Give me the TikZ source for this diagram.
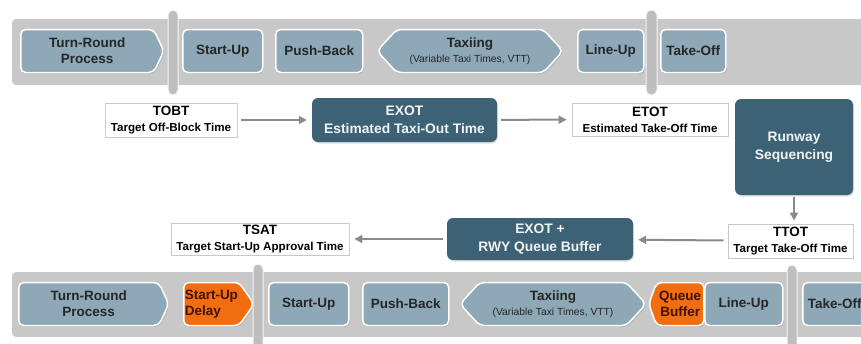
\documentclass[tikz,border=0pt]{standalone}
\usepackage{fontspec}
\setmainfont{Liberation Sans}
\usetikzlibrary{positioning}
\usetikzlibrary{shapes.symbols, arrows.meta, shadows}

\definecolor{bandgray}{RGB}{200,200,200}
\definecolor{bargray}{RGB}{190,190,190}
\definecolor{phaseblue}{RGB}{142,168,183}
\definecolor{calcteal}{RGB}{62,98,117}
\definecolor{delayorange}{RGB}{242,108,16}
\definecolor{delaytext}{RGB}{60,20,0}
\definecolor{flowgray}{RGB}{138,138,138}
\definecolor{framegray}{RGB}{200,200,200}

\newcommand{\subline}[1]{{\fontsize{11.6}{13}\selectfont #1}}

\tikzset{
  band/.style={fill=bandgray, rounded corners=4pt},
  divider/.style={fill=bargray, draw=white!85!bargray, line width=1pt, rounded corners=5pt},
  phase/.style={rectangle, rounded corners=5pt, draw=white, line width=1.5pt,
    fill=phaseblue, text=black!85, align=center, inner sep=1pt, anchor=west,
    minimum height=43pt, font=\bfseries\fontsize{13.5}{16}\selectfont,
    drop shadow={shadow xshift=1pt, shadow yshift=-1.5pt, opacity=.3}},
  phasearrow/.style={phase, signal, signal to=east, signal pointer angle=130},
  delay/.style={fill=delayorange, text=delaytext},
  timebox/.style={rectangle, draw=framegray, line width=.8pt, fill=white,
    align=center, inner sep=1pt, font=\bfseries\fontsize{13.5}{16}\selectfont},
  calcbox/.style={rectangle, rounded corners=6pt, fill=calcteal, text=white!92!calcteal,
    align=center, inner sep=2pt, font=\bfseries\fontsize{13.8}{18}\selectfont,
    drop shadow={shadow xshift=1pt, shadow yshift=-1.5pt, opacity=.25}},
  flow/.style={->, draw=flowgray, line width=2pt, shorten <=4pt, shorten >=5pt}
}

\begin{document}
\begin{tikzpicture}[x=1pt, y=-1pt, >={Triangle[length=8pt,width=8pt]}]
\useasboundingbox (0,0) rectangle (861,343);
\clip (0,0) rectangle (861,343);

% planned sequence
\fill[band] (12,19) rectangle (900,85);
\draw[divider] (168,10) rectangle (178,95);
\draw[divider] (646,10) rectangle (657,95);

\node[phasearrow, minimum width=143pt] (trp1) at (20,51) {Turn-Round\\Process};
\node[phase, minimum width=80pt] (su1) at (182,51) {Start-Up};
\node[phase, minimum width=87pt] (pb1) at (275,51) {Push-Back};
\node[phase, signal, signal to=west and east, signal pointer angle=95, minimum width=186pt] (tx1) at (376,51)
  {Taxiing\\[-1pt]{\mdseries\fontsize{10.3}{12}\selectfont(Variable Taxi Times, VTT)}};
\node[phase, minimum width=66pt] (lu1) at (577,51) {Line-Up};
\node[phase, minimum width=65pt] (to1) at (660,51) {Take-Off};

% times
\node[timebox, minimum width=132pt, minimum height=34pt] (tobt) at (171,120) {TOBT\\\subline{Target Off-Block Time}};
\node[calcbox, minimum width=185pt, minimum height=44pt] (exot) at (404.5,120) {EXOT\\Estimated Taxi-Out Time};
\node[timebox, minimum width=156pt, minimum height=33pt] (etot) at (650,119.5) {ETOT\\\subline{Estimated Take-Off Time}};
\node[calcbox, minimum width=118pt, minimum height=96pt] (rwy) at (794,147) {Runway\\Sequencing};
\node[timebox, minimum width=125pt, minimum height=34pt] (ttot) at (790.5,241) {TTOT\\\subline{Target Take-Off Time}};
\node[calcbox, minimum width=186pt, minimum height=42pt] (exq) at (540,239) {EXOT +\\RWY Queue Buffer};
\node[timebox, minimum width=178pt, minimum height=32pt] (tsat) at (260,239) {TSAT\\\subline{Target Start-Up Approval Time}};

\draw[flow] (tobt) -- (exot);
\draw[flow] (exot) -- (etot);
\draw[flow, shorten <=2pt, shorten >=3pt] (rwy.south) -- (rwy.south |- ttot.north);
\draw[flow] (ttot) -- (exq);
\draw[flow] (exq) -- (tsat);

% actual sequence
\fill[band] (12,272) rectangle (900,337);
\draw[divider] (253,264) rectangle (263,360);
\draw[divider] (787,265) rectangle (797,360);

\node[phasearrow, minimum width=150pt] (trp2) at (18,304) {Turn-Round\\Process};
\node[phasearrow, delay, align=left, signal pointer angle=110, minimum width=66pt] (sud) at (183,304) {Start-Up\\Delay};
\node[phase, minimum width=80pt] (su2) at (268,304) {Start-Up};
\node[phase, minimum width=86pt] (pb2) at (362,304) {Push-Back};
\node[phase, signal, signal to=west and east, signal pointer angle=95, minimum width=186pt] (tx2) at (459,304)
  {Taxiing\\[-1pt]{\mdseries\fontsize{10.3}{12}\selectfont(Variable Taxi Times, VTT)}};
\node[phase, delay, signal, signal to=west, signal pointer angle=140, minimum width=55pt] (qb) at (648,304) {Queue\\Buffer};
\node[phase, minimum width=78pt] (lu2) at (704,304) {Line-Up};
\node[phase, minimum width=64pt] (to2) at (802,304) {Take-Off};
\end{tikzpicture}
\end{document}
